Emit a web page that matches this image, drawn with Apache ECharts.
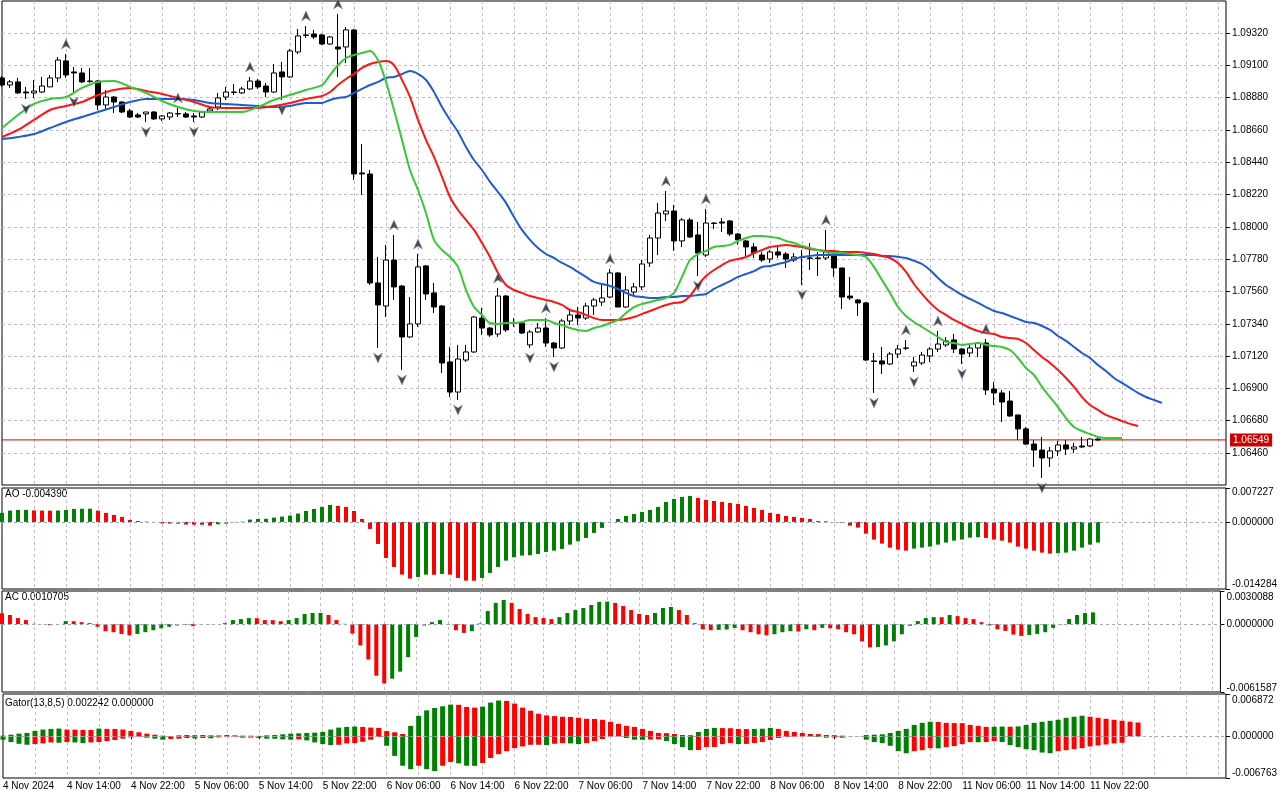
<!DOCTYPE html>
<html>
<head>
<meta charset="utf-8">
<title>EURUSD H1 Alligator / AO / AC / Gator</title>
<script src="https://cdn.jsdelivr.net/npm/echarts@6.0.0/dist/echarts.min.js"></script>
<style>
  html, body { margin: 0; padding: 0; background: #fff; }
  #chart { width: 1280px; height: 800px; }
</style>
</head>
<body>
<div id="chart"></div>
<script>
// bar slots on the time axis (138 real hourly bars + room for the shifted lines)
const slotCount = 154;
const timeLabels = ['4 Nov 2024', '4 Nov 14:00', '4 Nov 22:00', '5 Nov 06:00', '5 Nov 14:00', '5 Nov 22:00',
  '6 Nov 06:00', '6 Nov 14:00', '6 Nov 22:00', '7 Nov 06:00', '7 Nov 14:00', '7 Nov 22:00',
  '8 Nov 06:00', '8 Nov 14:00', '8 Nov 22:00', '11 Nov 06:00', '11 Nov 14:00', '11 Nov 22:00'];
const priceTicks = [1.06460, 1.06680, 1.06900, 1.07120, 1.07340, 1.07560, 1.07780,
  1.08000, 1.08220, 1.08440, 1.08660, 1.08880, 1.09100, 1.09320];

// [open, close, low, high]
const candles = [
  [1.09014,1.08966,1.08953,1.09027],[1.08966,1.08987,1.08946,1.09000],[1.08987,1.08912,1.08905,1.09014],
  [1.08918,1.08912,1.08871,1.08953],[1.08912,1.08925,1.08878,1.09000],[1.08918,1.08959,1.08912,1.09021],
  [1.08953,1.09014,1.08953,1.09034],[1.09014,1.09136,1.08987,1.09157],[1.09130,1.09034,1.09014,1.09177],
  [1.09055,1.09048,1.08918,1.09089],[1.09048,1.08987,1.08980,1.09082],[1.08993,1.08990,1.08980,1.09082],
  [1.08993,1.08830,1.08796,1.09000],[1.08830,1.08884,1.08796,1.08932],[1.08884,1.08850,1.08775,1.08891],
  [1.08850,1.08782,1.08775,1.08857],[1.08789,1.08748,1.08741,1.08803],[1.08762,1.08748,1.08741,1.08775],
  [1.08769,1.08782,1.08714,1.08782],[1.08782,1.08735,1.08728,1.08789],[1.08735,1.08755,1.08721,1.08762],
  [1.08748,1.08775,1.08728,1.08782],[1.08769,1.08772,1.08748,1.08810],[1.08769,1.08748,1.08741,1.08782],
  [1.08755,1.08748,1.08714,1.08775],[1.08748,1.08782,1.08741,1.08789],[1.08789,1.08803,1.08775,1.08816],
  [1.08816,1.08878,1.08796,1.08912],[1.08884,1.08918,1.08864,1.08953],[1.08918,1.08915,1.08898,1.08973],
  [1.08912,1.08939,1.08905,1.08953],[1.08939,1.08993,1.08932,1.09021],[1.08993,1.08953,1.08939,1.09007],
  [1.08959,1.08918,1.08884,1.08980],[1.08918,1.09048,1.08912,1.09109],[1.09055,1.09021,1.08864,1.09123],
  [1.09021,1.09198,1.09014,1.09211],[1.09191,1.09300,1.09177,1.09348],[1.09307,1.09303,1.09286,1.09368],
  [1.09313,1.09293,1.09279,1.09341],[1.09307,1.09245,1.09239,1.09313],[1.09245,1.09293,1.09239,1.09300],
  [1.09225,1.09211,1.09021,1.09450],[1.09225,1.09341,1.09116,1.09361],[1.09341,1.08360,1.08319,1.09348],
  [1.08367,1.08360,1.08217,1.08564],[1.08360,1.07618,1.07604,1.08387],[1.07618,1.07468,1.07175,1.07795],
  [1.07461,1.07774,1.07386,1.07877],[1.07774,1.07591,1.07502,1.07945],[1.07597,1.07250,1.07025,1.07604],
  [1.07250,1.07339,1.07243,1.07522],[1.07339,1.07727,1.07318,1.07815],[1.07734,1.07543,1.07502,1.07740],
  [1.07550,1.07454,1.07413,1.07618],[1.07461,1.07073,1.07005,1.07468],[1.07080,1.06875,1.06841,1.07182],
  [1.06875,1.07100,1.06821,1.07196],[1.07093,1.07148,1.07080,1.07196],[1.07148,1.07386,1.07141,1.07393],
  [1.07379,1.07311,1.07264,1.07448],[1.07311,1.07264,1.07250,1.07318],[1.07270,1.07529,1.07250,1.07584],
  [1.07529,1.07298,1.07284,1.07536],[1.07345,1.07342,1.07318,1.07379],[1.07345,1.07277,1.07270,1.07352],
  [1.07196,1.07284,1.07175,1.07298],[1.07284,1.07311,1.07277,1.07345],[1.07311,1.07209,1.07182,1.07379],
  [1.07209,1.07175,1.07114,1.07216],[1.07175,1.07359,1.07168,1.07373],[1.07359,1.07400,1.07332,1.07434],
  [1.07400,1.07379,1.07332,1.07454],[1.07379,1.07461,1.07366,1.07482],[1.07461,1.07502,1.07400,1.07516],
  [1.07488,1.07516,1.07461,1.07604],[1.07522,1.07686,1.07516,1.07713],[1.07686,1.07454,1.07454,1.07693],
  [1.07454,1.07570,1.07448,1.07665],[1.07556,1.07591,1.07522,1.07618],[1.07591,1.07747,1.07570,1.07774],
  [1.07754,1.07924,1.07727,1.07945],[1.07924,1.08094,1.07808,1.08163],[1.08088,1.08108,1.08040,1.08244],
  [1.08108,1.07904,1.07836,1.08149],[1.07904,1.08047,1.07863,1.08060],[1.08047,1.07931,1.07924,1.08060],
  [1.07945,1.07822,1.07665,1.08033],[1.07808,1.08026,1.07795,1.08122],[1.08026,1.08023,1.07986,1.08033],
  [1.08033,1.08026,1.07965,1.08060],[1.08040,1.07951,1.07938,1.08047],[1.07951,1.07911,1.07877,1.07958],
  [1.07904,1.07863,1.07802,1.07911],[1.07863,1.07822,1.07788,1.07890],[1.07808,1.07774,1.07761,1.07829],
  [1.07781,1.07829,1.07754,1.07842],[1.07829,1.07808,1.07788,1.07877],[1.07815,1.07781,1.07720,1.07829],
  [1.07774,1.07795,1.07761,1.07822],[1.07795,1.07791,1.07604,1.07842],[1.07788,1.07785,1.07706,1.07890],
  [1.07788,1.07785,1.07665,1.07829],[1.07788,1.07829,1.07774,1.07979],[1.07802,1.07720,1.07659,1.07822],
  [1.07720,1.07522,1.07441,1.07720],[1.07529,1.07516,1.07502,1.07659],[1.07502,1.07482,1.07393,1.07509],
  [1.07482,1.07093,1.07087,1.07488],[1.07087,1.07083,1.06869,1.07141],[1.07087,1.07066,1.06998,1.07182],
  [1.07066,1.07134,1.07059,1.07148],[1.07134,1.07168,1.07107,1.07196],[1.07175,1.07173,1.07161,1.07230],
  [1.07053,1.07080,1.07012,1.07114],[1.07073,1.07127,1.07059,1.07148],[1.07121,1.07168,1.07080,1.07182],
  [1.07168,1.07202,1.07148,1.07291],[1.07196,1.07223,1.07182,1.07250],[1.07230,1.07168,1.07141,1.07270],
  [1.07168,1.07134,1.07066,1.07175],[1.07141,1.07175,1.07114,1.07196],[1.07175,1.07209,1.07114,1.07216],
  [1.07209,1.06889,1.06855,1.07236],[1.06896,1.06869,1.06787,1.06944],[1.06869,1.06807,1.06671,1.06889],
  [1.06814,1.06712,1.06705,1.06882],[1.06719,1.06624,1.06549,1.06719],[1.06624,1.06521,1.06515,1.06637],
  [1.06521,1.06480,1.06365,1.06549],[1.06480,1.06426,1.06290,1.06569],[1.06426,1.06474,1.06365,1.06501],
  [1.06474,1.06515,1.06440,1.06542],[1.06515,1.06487,1.06446,1.06549],[1.06487,1.06501,1.06460,1.06528],
  [1.06508,1.06501,1.06494,1.06569],[1.06508,1.06555,1.06501,1.06562],[1.06555,1.06549,1.06542,1.06562]
];

// Alligator lines (already shifted forward, as drawn)
const jaw = [
  1.08598,null,1.08612,null,1.08632,null,1.08673,null,1.08714,null,
  1.08748,null,1.08782,null,1.08816,null,1.08850,null,1.08871,null,
  1.08871,null,1.08871,null,1.08864,null,1.08844,null,1.08837,null,
  1.08830,null,1.08823,null,1.08816,null,1.08823,null,1.08844,null,
  1.08844,1.08864,1.08878,1.08884,1.08912,1.08939,1.08966,1.08987,1.09014,1.09021,
  1.09041,1.09061,1.09041,1.09000,1.08918,1.08816,1.08728,1.08646,1.08544,1.08455,
  1.08387,1.08306,1.08237,1.08163,1.08067,1.07979,1.07911,1.07856,1.07815,1.07788,
  1.07754,1.07727,1.07693,1.07659,1.07625,1.07611,1.07597,1.07577,1.07550,1.07529,
  1.07522,1.07516,1.07516,1.07522,1.07522,1.07529,1.07529,1.07536,1.07543,1.07577,
  1.07604,1.07631,1.07659,1.07679,1.07699,1.07727,1.07734,1.07747,1.07761,1.07781,
  1.07795,1.07802,1.07808,1.07808,1.07808,1.07808,1.07808,1.07808,1.07808,1.07808,
  1.07802,1.07802,1.07795,1.07788,1.07768,1.07747,1.07706,1.07652,1.07604,1.07570,
  1.07536,1.07509,1.07482,1.07454,1.07427,1.07413,1.07393,1.07373,1.07352,1.07345,
  1.07325,1.07298,1.07257,1.07223,1.07182,1.07141,1.07107,1.07059,1.07018,1.06971,
  1.06937,1.06903,1.06869,1.06841,1.06821,1.06801
];
const teeth = [
  1.08612,null,1.08660,null,1.08728,null,1.08796,null,1.08823,null,
  1.08850,null,1.08898,null,1.08932,null,1.08946,null,1.08925,null,
  1.08905,null,1.08878,null,1.08850,null,1.08816,null,1.08810,null,
  1.08810,null,1.08810,null,1.08823,null,1.08844,null,1.08871,null,
  1.08891,1.08918,1.08966,1.09007,1.09041,1.09082,1.09109,1.09123,1.09130,1.09102,
  1.09000,1.08884,1.08728,1.08592,1.08476,1.08340,1.08203,1.08115,1.08047,1.07979,
  1.07890,1.07795,1.07686,1.07604,1.07570,1.07550,1.07529,1.07516,1.07502,1.07488,
  1.07468,1.07434,1.07420,1.07400,1.07379,1.07366,1.07366,1.07366,1.07373,1.07386,
  1.07407,1.07427,1.07448,1.07468,1.07482,1.07488,1.07529,1.07604,1.07665,1.07706,
  1.07740,1.07768,1.07781,1.07795,1.07822,1.07842,1.07863,1.07870,1.07877,1.07870,
  1.07863,1.07849,1.07842,1.07836,1.07836,1.07829,1.07829,1.07829,1.07822,1.07815,
  1.07802,1.07788,1.07754,1.07693,1.07611,1.07543,1.07482,1.07434,1.07400,1.07366,
  1.07339,1.07311,1.07291,1.07277,1.07270,1.07250,1.07243,1.07236,1.07209,1.07161,
  1.07114,1.07073,1.07025,1.06971,1.06910,1.06841,1.06787,1.06753,1.06719,1.06698,
  1.06678,1.06658,1.06644
];
const lips = [
  1.08673,null,1.08762,null,1.08837,null,1.08871,null,1.08884,null,
  1.08946,null,1.08987,null,1.08993,null,1.08953,null,1.08912,null,
  1.08857,null,1.08816,null,1.08789,null,1.08782,null,1.08782,null,
  1.08782,null,1.08816,null,1.08864,null,1.08898,null,1.08932,null,
  1.08966,1.09034,1.09102,1.09150,1.09170,1.09184,1.09198,1.09136,1.08987,1.08796,
  1.08592,1.08387,1.08251,1.08094,1.07911,1.07842,1.07795,1.07727,1.07570,1.07454,
  1.07400,1.07345,1.07339,1.07345,1.07345,1.07352,1.07366,1.07366,1.07366,1.07345,
  1.07332,1.07311,1.07298,1.07291,1.07311,1.07325,1.07345,1.07366,1.07413,1.07454,
  1.07475,1.07488,1.07502,1.07516,1.07550,1.07659,1.07774,1.07815,1.07836,1.07863,
  1.07870,1.07877,1.07904,1.07924,1.07938,1.07938,1.07931,1.07924,1.07904,1.07890,
  1.07870,1.07856,1.07842,1.07829,1.07822,1.07822,1.07815,1.07808,1.07795,1.07727,
  1.07638,1.07550,1.07454,1.07393,1.07352,1.07318,1.07284,1.07250,1.07216,1.07209,
  1.07196,1.07202,1.07209,1.07196,1.07189,1.07182,1.07161,1.07107,1.07039,1.06991,
  1.06910,1.06841,1.06773,1.06698,1.06637,1.06610,1.06589,1.06569,1.06562,1.06562,
  1.06562
];

// bars carrying a Bill Williams fractal
const fractalUp = [8, 22, 31, 38, 42, 49, 52, 62, 68, 76, 83, 88, 103, 113, 117, 123];
const fractalDown = [3, 9, 18, 24, 35, 47, 50, 57, 66, 69, 87, 100, 109, 114, 120, 130];

const ao = [
  0.00192,0.00241,0.00254,0.00257,0.00245,0.00242,0.00240,0.00243,0.00256,0.00277,
  0.00280,0.00282,0.00241,0.00192,0.00149,0.00107,0.00043,0.00021,0.00007,-0.00002,
  -0.00030,-0.00035,-0.00037,-0.00055,-0.00058,-0.00060,-0.00078,-0.00050,-0.00036,-0.00007,
  0.00007,0.00050,0.00064,0.00066,0.00092,0.00114,0.00135,0.00178,0.00234,0.00277,
  0.00320,0.00362,0.00341,0.00320,0.00234,0.00064,-0.00149,-0.00469,-0.00767,-0.00959,
  -0.01122,-0.01207,-0.01172,-0.01122,-0.01125,-0.01108,-0.01122,-0.01193,-0.01250,-0.01252,
  -0.01193,-0.01086,-0.00959,-0.00824,-0.00753,-0.00717,-0.00710,-0.00682,-0.00639,-0.00611,
  -0.00575,-0.00483,-0.00412,-0.00341,-0.00234,-0.00128,-0.00007,0.00064,0.00128,0.00170,
  0.00213,0.00256,0.00320,0.00426,0.00490,0.00533,0.00554,0.00511,0.00469,0.00447,
  0.00426,0.00405,0.00383,0.00341,0.00298,0.00256,0.00192,0.00170,0.00128,0.00107,
  0.00085,0.00064,0.00021,0.00014,-0.00007,-0.00014,-0.00078,-0.00121,-0.00249,-0.00376,
  -0.00462,-0.00547,-0.00589,-0.00611,-0.00568,-0.00547,-0.00525,-0.00483,-0.00440,-0.00398,
  -0.00376,-0.00334,-0.00327,-0.00341,-0.00376,-0.00398,-0.00440,-0.00525,-0.00568,-0.00611,
  -0.00653,-0.00675,-0.00667,-0.00653,-0.00611,-0.00547,-0.00483,-0.00439
];
const ac = [
  0.00098,0.00083,0.00055,0.00037,0.00003,-0.00001,-0.00009,0.00001,0.00028,0.00027,
  0.00018,0.00009,-0.00024,-0.00064,-0.00073,-0.00089,-0.00101,-0.00089,-0.00073,-0.00055,
  -0.00037,-0.00024,-0.00012,-0.00006,-0.00018,-0.00003,-0.00002,0.00000,0.00009,0.00037,
  0.00046,0.00055,0.00054,0.00037,0.00036,0.00027,0.00037,0.00055,0.00092,0.00101,
  0.00102,0.00083,0.00037,0.00003,-0.00086,-0.00193,-0.00321,-0.00468,-0.00538,-0.00495,
  -0.00431,-0.00299,-0.00116,-0.00012,0.00018,0.00037,-0.00006,-0.00055,-0.00079,-0.00064,
  0.00006,0.00119,0.00193,0.00220,0.00193,0.00138,0.00092,0.00064,0.00055,0.00046,
  0.00064,0.00101,0.00128,0.00147,0.00174,0.00202,0.00205,0.00193,0.00165,0.00128,
  0.00092,0.00083,0.00101,0.00147,0.00156,0.00128,0.00083,0.00009,-0.00046,-0.00055,
  -0.00052,-0.00049,-0.00034,-0.00055,-0.00073,-0.00092,-0.00101,-0.00092,-0.00073,-0.00064,
  -0.00067,-0.00046,-0.00055,-0.00034,-0.00037,-0.00046,-0.00073,-0.00092,-0.00156,-0.00211,
  -0.00208,-0.00193,-0.00156,-0.00092,-0.00015,0.00028,0.00055,0.00064,0.00063,0.00083,
  0.00073,0.00055,0.00046,0.00018,-0.00012,-0.00046,-0.00061,-0.00095,-0.00107,-0.00098,
  -0.00089,-0.00073,-0.00034,-0.00003,0.00046,0.00083,0.00101,0.0010705
];
const gatorUp = [
  0.00011,0.00027,0.00044,0.00055,0.00088,0.00110,0.00121,0.00126,0.00110,0.00109,
  0.00104,0.00103,0.00126,0.00121,0.00120,0.00110,0.00088,0.00066,0.00044,0.00027,
  0.00011,0.00005,0.00016,0.00022,0.00019,0.00022,0.00016,0.00015,0.00022,0.00016,
  0.00011,0.00010,0.00008,0.00016,0.00022,0.00033,0.00044,0.00049,0.00055,0.00060,
  0.00071,0.00110,0.00142,0.00153,0.00159,0.00153,0.00142,0.00137,0.00085,0.00066,
  0.00038,0.00170,0.00334,0.00422,0.00460,0.00488,0.00515,0.00512,0.00477,0.00466,
  0.00482,0.00548,0.00581,0.00575,0.00532,0.00466,0.00416,0.00367,0.00340,0.00329,
  0.00318,0.00315,0.00301,0.00285,0.00282,0.00269,0.00236,0.00203,0.00170,0.00153,
  0.00121,0.00088,0.00055,0.00052,0.00038,0.00022,0.00019,0.00071,0.00121,0.00137,
  0.00134,0.00132,0.00121,0.00118,0.00121,0.00123,0.00137,0.00121,0.00088,0.00071,
  0.00055,0.00038,0.00036,0.00022,0.00019,0.00011,0.00002,0.00003,0.00022,0.00027,
  0.00033,0.00055,0.00088,0.00121,0.00186,0.00219,0.00236,0.00233,0.00219,0.00216,
  0.00214,0.00186,0.00170,0.00153,0.00156,0.00159,0.00156,0.00162,0.00186,0.00219,
  0.00236,0.00252,0.00269,0.00301,0.00318,0.00334,0.00318,0.00301,0.00285,0.00269,
  0.00253,0.00238,0.002242
];
const gatorDown = [
  -0.00055,-0.00093,-0.00121,-0.00137,-0.00126,-0.00115,-0.00099,-0.00104,-0.00093,-0.00099,
  -0.00110,-0.00099,-0.00093,-0.00077,-0.00060,-0.00038,-0.00016,-0.00005,-0.00022,-0.00038,
  -0.00055,-0.00044,-0.00038,-0.00027,-0.00033,-0.00027,-0.00033,-0.00016,-0.00011,-0.00005,
  -0.00022,-0.00021,-0.00027,-0.00038,-0.00039,-0.00049,-0.00055,-0.00049,-0.00066,-0.00099,
  -0.00126,-0.00142,-0.00137,-0.00115,-0.00110,-0.00088,-0.00055,-0.00011,-0.00153,-0.00318,
  -0.00477,-0.00532,-0.00477,-0.00532,-0.00564,-0.00477,-0.00416,-0.00438,-0.00477,-0.00479,
  -0.00433,-0.00351,-0.00290,-0.00241,-0.00192,-0.00164,-0.00137,-0.00136,-0.00142,-0.00121,
  -0.00110,-0.00115,-0.00126,-0.00110,-0.00077,-0.00044,-0.00005,-0.00001,-0.00027,-0.00055,
  -0.00056,-0.00052,-0.00049,-0.00077,-0.00126,-0.00175,-0.00225,-0.00222,-0.00175,-0.00173,
  -0.00126,-0.00110,-0.00126,-0.00123,-0.00110,-0.00093,-0.00060,-0.00027,-0.00011,-0.00005,
  -0.00004,-0.00006,-0.00011,-0.00022,-0.00020,-0.00022,-0.00003,-0.00001,-0.00055,-0.00093,
  -0.00110,-0.00153,-0.00241,-0.00274,-0.00241,-0.00225,-0.00192,-0.00195,-0.00175,-0.00159,
  -0.00126,-0.00093,-0.00096,-0.00093,-0.00077,-0.00093,-0.00142,-0.00175,-0.00208,-0.00225,
  -0.00263,-0.00274,-0.00241,-0.00225,-0.00208,-0.00192,-0.00164,-0.00148,-0.00132,-0.00115,
  -0.00104
];

// scale extremes printed on the sub-window axes
const aoRange = [-0.014284, 0.007227];
const acRange = [-0.0061587, 0.0030088];
const gatorRange = [-0.006763, 0.006872];

const GREEN = '#008000', RED = '#ff0000';
const FONT = 'Liberation Sans';
const gridDash = { color: '#c4b9c4', type: [3, 3], width: 1 };

const slots = [];
for (let i = 0; i < slotCount; i++) slots.push(String(i));

// histogram colour: green when the value rises against the previous bar
function colorBySlope(vals, first, useAbs) {
  return vals.map(function (v, i) {
    let up;
    if (i === 0) up = first === GREEN;
    else up = useAbs ? Math.abs(v) > Math.abs(vals[i - 1]) : v > vals[i - 1];
    return { value: v, itemStyle: { color: up ? GREEN : RED } };
  });
}

function xAxisFor(grid, withLabels) {
  const every8 = function (i) { return i % 8 === 0 && i <= 136; };
  return {
    type: 'category', gridIndex: grid, data: slots, boundaryGap: false,
    axisLine: { show: false },
    axisTick: withLabels ? { show: true, interval: every8, length: 3, lineStyle: { color: '#000' } } : { show: false },
    axisLabel: withLabels ? {
      show: true, interval: every8, align: 'left', margin: 3,
      color: '#000', fontSize: 10, fontFamily: FONT,
      formatter: function (v, idx) { return timeLabels[idx / 8] || ''; }
    } : { show: false },
    splitLine: { show: true, interval: function (i) { return i > 0 && i % 4 === 0; }, lineStyle: gridDash }
  };
}

function subYAxis(grid, range, digits, padTop, padBottom) {
  const vals = [range[0], 0, range[1]];
  const near = function (a, b) { return Math.abs(a - b) < 1e-9; };
  const base = { fontSize: 10, fontFamily: FONT, color: '#000' };
  return {
    type: 'value', gridIndex: grid, position: 'right', min: range[0], max: range[1],
    axisLine: { show: false },
    axisTick: { show: true, customValues: vals, length: 4, lineStyle: { color: '#000' } },
    splitLine: { show: false },
    axisLabel: {
      customValues: vals, margin: 6, color: '#000', fontSize: 10, fontFamily: FONT,
      formatter: function (v) {
        const s = v.toFixed(digits);
        if (near(v, range[1])) return '{t|' + s + '}';
        if (near(v, range[0])) return '{b|' + s + '}';
        return s;
      },
      rich: {
        t: Object.assign({ padding: [padTop, 0, 0, 0] }, base),
        b: Object.assign({ padding: [0, 0, padBottom, 0] }, base)
      }
    }
  };
}

function zeroLine() {
  return {
    silent: true, symbol: 'none', label: { show: false },
    lineStyle: { color: '#9ea8c2', type: [3, 3], width: 1 },
    data: [{ yAxis: 0 }]
  };
}

const upArrow = 'path://M0,0 L5,10 L0,7 L-5,10 Z';
const downArrow = 'path://M0,10 L5,0 L0,3 L-5,0 Z';
const lastClose = candles[candles.length - 1][1];

const chart = echarts.init(document.getElementById('chart'));
chart.setOption({
  animation: false,
  backgroundColor: '#fff',
  grid: [
    { left: 2, right: 54, top: 1, height: 484, show: true, borderColor: '#000', borderWidth: 1 },
    { left: 2, right: 54, top: 488, height: 101, show: true, borderColor: '#000', borderWidth: 1 },
    { left: 2, right: 54, top: 591, height: 101, show: true, borderColor: '#000', borderWidth: 1 },
    { left: 2, right: 54, top: 694, height: 84, show: true, borderColor: '#000', borderWidth: 1 }
  ],
  xAxis: [xAxisFor(0, false), xAxisFor(1, false), xAxisFor(2, false), xAxisFor(3, true)],
  yAxis: [
    {
      type: 'value', gridIndex: 0, position: 'right', min: 1.06242, max: 1.09538,
      axisLine: { show: false },
      axisTick: { show: true, customValues: priceTicks, length: 4, lineStyle: { color: '#000' } },
      axisLabel: {
        customValues: priceTicks, margin: 6, color: '#000', fontSize: 10, fontFamily: FONT,
        formatter: function (v) { return v.toFixed(5); }
      },
      splitLine: { show: true, lineStyle: gridDash }
    },
    subYAxis(1, aoRange, 6, 8, 10),
    subYAxis(2, acRange, 7, 12, 8),
    subYAxis(3, gatorRange, 6, 12, 10)
  ],
  graphic: [
    { type: 'text', left: 5, top: 489, style: { text: 'AO -0.004390', font: '10px "' + FONT + '"', fill: '#000' } },
    { type: 'text', left: 5, top: 592, style: { text: 'AC 0.0010705', font: '10px "' + FONT + '"', fill: '#000' } },
    { type: 'text', left: 5, top: 698, style: { text: 'Gator(13,8,5) 0.002242 0.000000', font: '10px "' + FONT + '"', fill: '#000' } }
  ],
  series: [
    // current bid line across the window, price tag on the scale
    { name: 'Bid', type: 'line', xAxisIndex: 0, yAxisIndex: 0, z: 1, silent: true,
      data: slots.map(function () { return lastClose; }),
      showSymbol: false, lineStyle: { color: '#e00000', width: 1 },
      endLabel: {
        show: true, distance: 4, formatter: lastClose.toFixed(5),
        backgroundColor: '#cc0000', color: '#fff', fontSize: 10, fontFamily: FONT, padding: [2, 3, 1, 3]
      } },
    {
      name: 'EURUSD', type: 'candlestick', xAxisIndex: 0, yAxisIndex: 0, data: candles, barWidth: 5, z: 2,
      itemStyle: { color: '#ffffff', color0: '#000000', borderColor: '#000000', borderColor0: '#000000', borderWidth: 1 }
    },
    { name: 'Jaws', type: 'line', xAxisIndex: 0, yAxisIndex: 0, data: jaw, connectNulls: true, smooth: 0.3,
      showSymbol: false, lineStyle: { color: '#1f5bd2', width: 2 }, z: 3 },
    { name: 'Teeth', type: 'line', xAxisIndex: 0, yAxisIndex: 0, data: teeth, connectNulls: true, smooth: 0.3,
      showSymbol: false, lineStyle: { color: '#ff1414', width: 2 }, z: 3 },
    { name: 'Lips', type: 'line', xAxisIndex: 0, yAxisIndex: 0, data: lips, connectNulls: true, smooth: 0.3,
      showSymbol: false, lineStyle: { color: '#36c836', width: 2 }, z: 3 },
    { name: 'Fractal up', type: 'scatter', xAxisIndex: 0, yAxisIndex: 0, z: 4,
      data: fractalUp.map(function (i) { return [i, candles[i][3]]; }),
      symbol: upArrow, symbolSize: [9, 10], symbolOffset: [0, -10],
      itemStyle: { color: '#1e1e1e', borderColor: '#7f95c0', borderWidth: 0.6 } },
    { name: 'Fractal down', type: 'scatter', xAxisIndex: 0, yAxisIndex: 0, z: 4,
      data: fractalDown.map(function (i) { return [i, candles[i][2]]; }),
      symbol: downArrow, symbolSize: [9, 10], symbolOffset: [0, 10],
      itemStyle: { color: '#1e1e1e', borderColor: '#7f95c0', borderWidth: 0.6 } },
    { name: 'AO', type: 'bar', xAxisIndex: 1, yAxisIndex: 1, barWidth: 4,
      data: colorBySlope(ao, GREEN, false), markLine: zeroLine() },
    { name: 'AC', type: 'bar', xAxisIndex: 2, yAxisIndex: 2, barWidth: 4,
      data: colorBySlope(ac, RED, false), markLine: zeroLine() },
    { name: 'Gator up', type: 'bar', xAxisIndex: 3, yAxisIndex: 3, barWidth: 5,
      data: colorBySlope(gatorUp, GREEN, true), markLine: zeroLine() },
    { name: 'Gator down', type: 'bar', xAxisIndex: 3, yAxisIndex: 3, barWidth: 5, barGap: '-100%',
      data: colorBySlope(gatorDown, GREEN, true) }
  ]
});
</script>
</body>
</html>
